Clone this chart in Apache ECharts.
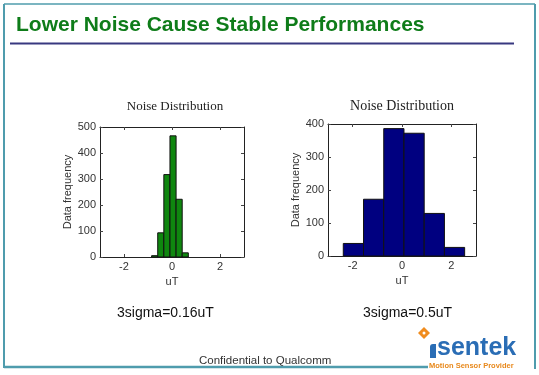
<!DOCTYPE html>
<html>
<head>
<meta charset="utf-8">
<script src="https://cdn.jsdelivr.net/npm/echarts@6/dist/echarts.min.js"></script>
<style>
  html, body { margin: 0; padding: 0; background: #fff; }
  #main { width: 539px; height: 375px; }
</style>
</head>
<body>
<div id="main"></div>
<script>
// histogram bins (uT) and counts
const leftEdges = [-0.85, -0.595, -0.34, -0.085, 0.17, 0.425, 0.68];
const leftCounts = [5, 93, 317, 466, 222, 16];
const rightEdges = [-2.38, -1.56, -0.74, 0.08, 0.9, 1.72, 2.54];
const rightCounts = [38, 172, 386, 372, 129, 26];
const xTicks = [-2, 0, 2];
const leftYMax = 500;
const rightYMax = 400;

const chart = echarts.init(document.getElementById('main'));

function bins(edges, counts) {
  return counts.map((c, i) => [edges[i], edges[i + 1], c]);
}

function renderBar(color) {
  return function (params, api) {
    const p0 = api.coord([api.value(0), 0]);
    const p1 = api.coord([api.value(1), api.value(2)]);
    return {
      type: 'rect',
      shape: { x: p0[0], y: p1[1], width: p1[0] - p0[0], height: p0[1] - p1[1] },
      style: { fill: color, stroke: '#111', lineWidth: 1 }
    };
  };
}

const tickStyle = { show: true, inside: true, length: 3, lineStyle: { color: '#444' } };
const labelStyle = { color: '#333', fontSize: 11, fontFamily: 'Arial' };
const lineStyle = { show: true, onZero: false, lineStyle: { color: '#222' } };

function xAxes(grid) {
  return [
    {
      gridIndex: grid, type: 'value', min: -3, max: 3, position: 'bottom',
      splitLine: { show: false },
      axisLine: lineStyle,
      axisTick: Object.assign({ customValues: xTicks }, tickStyle),
      axisLabel: Object.assign({ customValues: xTicks, margin: 4 }, labelStyle),
      name: 'uT', nameLocation: 'middle', nameGap: 19,
      nameTextStyle: { color: '#333', fontSize: 11, fontFamily: 'Arial' }
    },
    {
      gridIndex: grid, type: 'value', min: -3, max: 3, position: 'top',
      splitLine: { show: false },
      axisLine: lineStyle,
      axisTick: Object.assign({ customValues: xTicks }, tickStyle),
      axisLabel: { show: false }
    }
  ];
}

function yAxes(grid, max, gap) {
  return [
    {
      gridIndex: grid, type: 'value', min: 0, max: max, interval: 100, position: 'left',
      splitLine: { show: false },
      axisLine: lineStyle,
      axisTick: tickStyle,
      axisLabel: Object.assign({ margin: 4 }, labelStyle),
      name: 'Data frequency', nameLocation: 'middle', nameGap: gap,
      nameTextStyle: { color: '#333', fontSize: 11, fontFamily: 'Arial' }
    },
    {
      gridIndex: grid, type: 'value', min: 0, max: max, interval: 100, position: 'right',
      splitLine: { show: false },
      axisLine: lineStyle,
      axisTick: tickStyle,
      axisLabel: { show: false }
    }
  ];
}

const teal = '#4f9cad';

chart.setOption({
  animation: false,
  grid: [
    { left: 100, top: 127, width: 144, height: 130 },
    { left: 328, top: 124, width: 148, height: 132 }
  ],
  xAxis: xAxes(0).concat(xAxes(1)),
  yAxis: yAxes(0, leftYMax, 26).concat(yAxes(1, rightYMax, 27)),
  series: [
    {
      type: 'custom', xAxisIndex: 0, yAxisIndex: 0,
      renderItem: renderBar('#0f870f'),
      data: bins(leftEdges, leftCounts)
    },
    {
      type: 'custom', xAxisIndex: 2, yAxisIndex: 2,
      renderItem: renderBar('#000080'),
      data: bins(rightEdges, rightCounts)
    }
  ],
  graphic: [
    // slide frame
    { type: 'line', shape: { x1: 4, y1: 4, x2: 535, y2: 4 }, style: { stroke: teal, lineWidth: 1.5 } },
    { type: 'line', shape: { x1: 4, y1: 4, x2: 4, y2: 368 }, style: { stroke: teal, lineWidth: 2 } },
    { type: 'line', shape: { x1: 535, y1: 4, x2: 535, y2: 369 }, style: { stroke: teal, lineWidth: 2 } },
    { type: 'line', shape: { x1: 4, y1: 367, x2: 428, y2: 367 }, style: { stroke: teal, lineWidth: 2.5 } },
    // heading
    {
      type: 'text', x: 16, y: 25.5,
      style: { text: 'Lower Noise Cause Stable Performances', font: 'bold 21px Arial', fill: '#0e7c19', verticalAlign: 'middle' }
    },
    { type: 'line', shape: { x1: 10, y1: 43.5, x2: 514, y2: 43.5 }, style: { stroke: '#383880', lineWidth: 2 } },
    // chart titles
    {
      type: 'text', x: 175, y: 106.7,
      style: { text: 'Noise Distribution', font: '13px "Liberation Serif", "Times New Roman", serif', fill: '#222', align: 'center', verticalAlign: 'middle' }
    },
    {
      type: 'text', x: 402, y: 106.2,
      style: { text: 'Noise Distribution', font: '14px "Liberation Serif", "Times New Roman", serif', fill: '#222', align: 'center', verticalAlign: 'middle' }
    },
    // notes
    {
      type: 'text', x: 117, y: 313,
      style: { text: '3sigma=0.16uT', font: '14px Arial', fill: '#111', verticalAlign: 'middle' }
    },
    {
      type: 'text', x: 363, y: 312.7,
      style: { text: '3sigma=0.5uT', font: '14px Arial', fill: '#111', verticalAlign: 'middle' }
    },
    {
      type: 'text', x: 199, y: 361,
      style: { text: 'Confidential to Qualcomm', font: '11.5px Arial', fill: '#333', verticalAlign: 'middle' }
    },
    // logo
    { type: 'polygon', shape: { points: [[424, 327], [430, 333], [424, 339], [418, 333]] }, style: { fill: '#f08c1e' } },
    { type: 'circle', shape: { cx: 424, cy: 333, r: 1.5 }, style: { fill: '#fff' } },
    { type: 'rect', shape: { x: 430, y: 344, width: 6, height: 14, r: [3, 0, 0, 0] }, style: { fill: '#2a6db5' } },
    {
      type: 'text', x: 437, y: 348.5,
      style: { text: 'sentek', font: 'bold 25px Arial', fill: '#2a6db5', verticalAlign: 'middle' }
    },
    {
      type: 'text', x: 429, y: 366,
      style: { text: 'Motion Sensor Provider', font: 'bold 7.5px Arial', fill: '#e8891c', verticalAlign: 'middle' }
    }
  ]
});
</script>
</body>
</html>
